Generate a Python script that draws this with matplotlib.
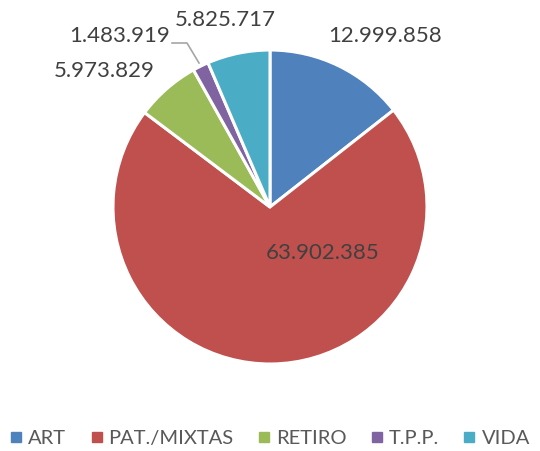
import matplotlib.pyplot as plt
from matplotlib.lines import Line2D

categories = ['ART', 'PAT./MIXTAS', 'RETIRO', 'T.P.P.', 'VIDA']
values = [12999858, 63902385, 5973829, 1483919, 5825717]
value_labels = ['12.999.858', '63.902.385', '5.973.829', '1.483.919', '5.825.717']
colors = ['#4F81BD', '#C0504D', '#9BBB59', '#8064A2', '#4BACC6']

# label placement in pixel space (x, y from top)
label_pos = [(385, 36), (323, 253), (104, 71), (120, 36), (225, 20)]

W, H = 540, 451
fig = plt.figure(figsize=(W / 100, H / 100), dpi=100)
ax = fig.add_axes([0, 0, 1, 1])

ax.pie(values, colors=colors, startangle=90, counterclock=False,
       center=(270, H - 207), radius=157,
       wedgeprops=dict(edgecolor='white', linewidth=2.2))
ax.set_xlim(0, W)
ax.set_ylim(0, H)
ax.set_aspect('equal')
ax.axis('off')

font = 'Lato'
for (x, y), txt in zip(label_pos, value_labels):
    ax.text(x, H - y, txt, ha='center', va='center', fontsize=16,
            color='#404040', family=font)

# leader line for the small T.P.P. slice
ax.plot([172, 187, 199], [H - 43, H - 43, H - 63], color='#A6A6A6', lw=1.2)

handles = [Line2D([], [], marker='s', linestyle='none', markersize=7,
                  markerfacecolor=c, markeredgecolor=c) for c in colors]
fig.legend(handles, categories, loc='center', bbox_to_anchor=(0.5, 1 - 438 / H),
           ncol=5, frameon=False, handlelength=0.6, handletextpad=0.3,
           columnspacing=1.2, prop=dict(family=font, size=14.5),
           labelcolor='#595959', borderaxespad=0, borderpad=0)

fig.savefig('out.png', dpi=100)
